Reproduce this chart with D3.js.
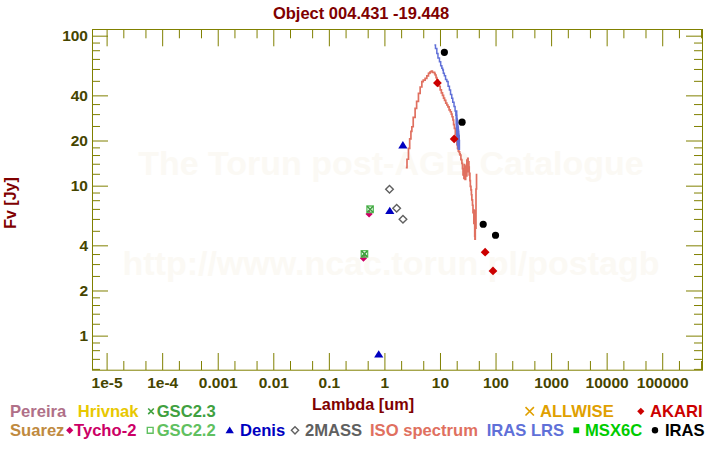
<!DOCTYPE html>
<html><head><meta charset="utf-8">
<script src="https://cdn.jsdelivr.net/npm/d3@7"></script>
<style>
body{margin:0;background:#fff}
svg{display:block}
text{font-family:"Liberation Sans",Arial,Helvetica,sans-serif;font-weight:bold}
</style>
</head><body>
<svg id="c" width="720" height="450"></svg>
<script>
// ---------------- data ----------------
const title = "Object 004.431 -19.448";
const xTitle = "Lambda [um]";
const yTitle = "Fv [Jy]";
const watermark = ["The Torun post-AGB Catalogue", "http://www.ncac.torun.pl/postagb"];

const xDomain = [5.46e-6, 5.2e5];
const yDomain = [0.59, 110.3];
const xMajorTicks = [1e-5,1e-4,1e-3,1e-2,1e-1,1,10,100,1000,10000,100000];
const xTickLabels = ["1e-5","1e-4","0.001","0.01","0.1","1","10","100","1000","10000","100000"];
const yMajorTicks = [1,2,4,10,20,40,100];
const yTickLabels = ["1","2","4","10","20","40","100"];
const yMinorTicks = [0.6,0.7,0.8,0.9,1.2,1.4,1.6,1.8,2.5,3,3.5,5,6,7,8,9,12,14,16,18,25,30,35,50,60,70,80,90];

// photometry
const irasLambda = [12, 25, 60, 100];
const irasFlux   = [77.4, 26.5, 5.53, 4.67];
const akariLambda = [9, 18, 65, 90];
const akariFlux   = [48.4, 20.5, 3.6, 2.7];
const denisLambda = [0.79, 1.25, 2.15];
const denisFlux   = [0.75, 6.78, 18.6];
const twomassLambda = [1.235, 1.662, 2.159];
const twomassFlux   = [9.46, 7.07, 5.97];
const tychoLambda = [0.42, 0.53];
const tychoFlux   = [3.28, 6.48];
const gsc22Lambda = [0.437, 0.553];
const gsc22Flux   = [3.51, 6.96];
const gsc23Lambda = [0.437, 0.553];
const gsc23Flux   = [3.51, 6.96];

// ISO spectrum
const isoLambda = [2.43,2.55,2.71,2.85,3.0,3.12,3.3,3.57,3.8,4.1,4.4,4.72,5.0,5.41,5.8,6.21,6.5,6.66,7.0,7.3,7.64,8.0,8.2,8.5,8.79,9.2,9.6,10.1,10.6,11.1,11.6,12.1,12.7,13.3,13.9,14.6,15.3,16.0,16.5,17.1,17.6,18.2,18.9,19.6,20.2,20.7,21.4,22.0,22.6,23.1,23.8,24.3,24.8,25.4,26.0,26.5,27.0,27.5,27.8,28.3,29.0,29.5,30.0,30.5,31.0,31.6,32.1,32.6,33.2,33.6,34.0,34.6,35.2,36.1,36.8,37.5,38.5,39.3,40.1,40.7,41.3,41.8,42.2,42.6,43.2,43.8,44.5,45.5];
const isoFlux   = [13.2,15.0,17.7,20.5,23.0,24.7,28.5,32.8,36.5,41.3,45.5,49.4,50.5,52.0,54.0,56.1,56.5,57.5,58.0,57.0,57.0,55.8,54.7,52.5,50.7,48.0,46.0,43.5,41.5,40.0,38.3,37.0,35.5,34.5,33.5,32.0,31.1,30.0,28.8,27.4,25.5,24.1,22.0,20.2,18.8,17.7,17.0,16.8,16.3,16.0,15.0,14.8,14.1,13.0,11.8,12.5,11.2,13.8,12.9,11.0,12.8,13.5,11.6,14.8,13.0,15.2,12.4,14.4,13.3,11.8,12.1,10.8,9.9,9.36,8.7,8.03,7.4,6.6,6.89,5.6,6.3,5.61,4.6,4.40,6.8,5.2,9.5,12.0];

// IRAS LRS spectrum
const lrsLambda = [7.95,8.3,8.78,9.2,9.79,10.3,10.8,11.2,11.5,12.0,12.6,13.3,14.0,14.8,15.5,16.3,17.0,17.9,18.7,19.3,19.5,19.6,19.7,19.8,19.9,20.0,20.1,20.2,20.3,20.4,20.5,20.6,20.7,20.8,20.9,21.0,21.1,21.2,21.3,21.4,21.5,21.6,21.7,21.8,21.9,22.0,22.1,22.2,22.3,22.4];
const lrsFlux   = [86.7,82,76.2,71,67.0,63,60.6,59,56.1,54,51,49.4,46,43.5,40.5,38.3,36,33.7,31.5,29.5,31,26,30.5,24,31.5,22,29.5,21,28,20,27.5,19,27,18.5,26,19.5,25,18,24.5,17.5,23.5,18,23,17.5,22,18.5,21.5,17.5,20,17.3];

// legend
const legendNames   = ["Pereira","Hrivnak","GSC2.3","ALLWISE","AKARI","Suarez","Tycho-2","GSC2.2","Denis","2MASS","ISO spectrum","IRAS LRS","MSX6C","IRAS"];
const legendColors  = ["#b07088","#e8c800","#40a040","#e0a000","#cc0000","#c08a40","#cc0066","#60c060","#0000c0","#606060","#e07060","#6070d8","#00cc00","#000000"];
const legendSymbols = ["none","none","times","timesBig","diamond","none","diamond","square","triangle","diamondOpen","none","none","squareFill","circle"];

// ---------------- layout ----------------
const L = 92, R = 702, T = 29.3, B = 370;
const legendRow     = [0,0,0,0,0,1,1,1,1,1,1,1,1,1];
const legendTextX   = [10,77.7,156.7,540,650,10,74,156.7,240,305,370,486.7,585,665];
const legendMarkerX = [0,0,151,529.7,640.8,0,69.7,150.2,229.7,295,0,0,576.3,655];
const legendBaseline = [417, 435.5];
const legendMarkerY  = [411.3, 430.3];

const svg = d3.select("#c");
const x = d3.scaleLog().domain(xDomain).range([L, R]);
const y = d3.scaleLog().domain(yDomain).range([B, T]);

// watermark
svg.append("g").selectAll("text").data(watermark).join("text")
  .attr("x", 391).attr("y", (d,i) => i ? 275 : 175)
  .attr("text-anchor","middle").attr("font-size", 34).attr("fill","#fbf9f4").text(d => d);

// axes
const olive = "#808000", tickText = "#454500";
const xMinor = [];
xMajorTicks.forEach(m => [2,5].forEach(k => xMinor.push(m*k)));
const xMinorF = xMinor.filter(v => v > xDomain[0] && v < xDomain[1]);

function styleAxis(g){ g.select(".domain").remove(); g.selectAll("line").attr("stroke", olive); }

svg.append("g").attr("transform",`translate(0,${B})`)
  .call(d3.axisBottom(x).tickValues(xMajorTicks).tickSizeInner(-17).tickSizeOuter(0).tickPadding(7).tickFormat((d,i)=>xTickLabels[i]))
  .call(styleAxis).call(g => g.selectAll("text").attr("fill",tickText).attr("font-size",15.5).attr("font-family",null));
svg.append("g").attr("transform",`translate(0,${B})`)
  .call(d3.axisBottom(x).tickValues(xMinorF).tickSizeInner(-9).tickSizeOuter(0).tickFormat(""))
  .call(styleAxis);
svg.append("g").attr("transform",`translate(0,${T})`)
  .call(d3.axisTop(x).tickValues(xMajorTicks).tickSizeInner(-17).tickSizeOuter(0).tickFormat(""))
  .call(styleAxis);
svg.append("g").attr("transform",`translate(0,${T})`)
  .call(d3.axisTop(x).tickValues(xMinorF).tickSizeInner(-9).tickSizeOuter(0).tickFormat(""))
  .call(styleAxis);

svg.append("g").attr("transform",`translate(${L},0)`)
  .call(d3.axisLeft(y).tickValues(yMajorTicks).tickSizeInner(-16).tickSizeOuter(0).tickPadding(4).tickFormat((d,i)=>yTickLabels[i]))
  .call(styleAxis).call(g => g.selectAll("text").attr("fill",tickText).attr("font-size",15.5).attr("font-family",null));
svg.append("g").attr("transform",`translate(${L},0)`)
  .call(d3.axisLeft(y).tickValues(yMinorTicks).tickSizeInner(-8).tickSizeOuter(0).tickFormat(""))
  .call(styleAxis);
svg.append("g").attr("transform",`translate(${R},0)`)
  .call(d3.axisRight(y).tickValues(yMajorTicks).tickSizeInner(-16).tickSizeOuter(0).tickFormat(""))
  .call(styleAxis);
svg.append("g").attr("transform",`translate(${R},0)`)
  .call(d3.axisRight(y).tickValues(yMinorTicks).tickSizeInner(-8).tickSizeOuter(0).tickFormat(""))
  .call(styleAxis);

svg.append("rect").attr("x",L+0.5).attr("y",T+0.2).attr("width",R-L).attr("height",B-T)
  .attr("fill","none").attr("stroke",olive).attr("stroke-width",1);

// titles
svg.append("text").attr("x",361).attr("y",19).attr("text-anchor","middle").attr("font-size",16.5).attr("fill","#800000").text(title);
svg.append("text").attr("x",363).attr("y",409.5).attr("text-anchor","middle").attr("font-size",16.3).attr("fill","#800000").text(xTitle);
svg.append("text").attr("transform","translate(16,203) rotate(-90)").attr("text-anchor","middle").attr("font-size",16).attr("fill","#800000").text(yTitle);

// clip
svg.append("clipPath").attr("id","clip").append("rect").attr("x",L).attr("y",T).attr("width",R-L).attr("height",B-T);
const plot = svg.append("g").attr("clip-path","url(#clip)");

// spectra
const line = d3.line().x(d => x(d[0])).y(d => y(d[1])).curve(d3.curveStepAfter);
plot.append("path").datum(isoLambda.map((l,i)=>[l,isoFlux[i]])).attr("d",line)
  .attr("fill","none").attr("stroke","#e07060").attr("stroke-width",1.7);
plot.append("path").datum(lrsLambda.map((l,i)=>[l,lrsFlux[i]])).attr("d",line)
  .attr("fill","none").attr("stroke","#6070d8").attr("stroke-width",1.5);

// marker shapes
function shape(type, cx, cy, s){
  const p = d3.path();
  switch(type){
    case "diamond": case "diamondOpen":
      p.moveTo(cx, cy-s); p.lineTo(cx+s, cy); p.lineTo(cx, cy+s); p.lineTo(cx-s, cy); p.closePath(); break;
    case "square": case "squareFill":
      p.rect(cx-s, cy-s, 2*s, 2*s); break;
    case "triangle":
      p.moveTo(cx, cy-s); p.lineTo(cx+s*1.1, cy+s*0.75); p.lineTo(cx-s*1.1, cy+s*0.75); p.closePath(); break;
    case "circle":
      p.arc(cx, cy, s, 0, 2*Math.PI); break;
    case "times": case "timesBig":
      p.moveTo(cx-s, cy-s); p.lineTo(cx+s, cy+s); p.moveTo(cx+s, cy-s); p.lineTo(cx-s, cy+s); break;
  }
  return p.toString();
}
function styleFor(type, color){
  if (type==="diamondOpen" || type==="square") return {fill:"none", stroke:color, sw:1.4};
  if (type==="times" || type==="timesBig") return {fill:"none", stroke:color, sw:1.6};
  return {fill:color, stroke:"none", sw:0};
}
function drawPoints(lams, fluxes, type, color, size){
  const st = styleFor(type, color);
  plot.append("g").selectAll("path").data(lams.map((l,i)=>[l,fluxes[i]])).join("path")
    .attr("d", d => shape(type, x(d[0]), y(d[1]), size))
    .attr("fill", st.fill).attr("stroke", st.stroke).attr("stroke-width", st.sw);
}
drawPoints(tychoLambda, tychoFlux, "diamond", "#cc0066", 3.6);
drawPoints(gsc22Lambda, gsc22Flux, "square", "#60c060", 3.2);
drawPoints(gsc23Lambda, gsc23Flux, "times", "#40a040", 3.0);
drawPoints(denisLambda, denisFlux, "triangle", "#0000c0", 4.2);
drawPoints(twomassLambda, twomassFlux, "diamondOpen", "#606060", 3.8);
drawPoints(akariLambda, akariFlux, "diamond", "#cc0000", 4.4);
drawPoints(irasLambda, irasFlux, "circle", "#000000", 3.6);

// legend
const lg = svg.append("g");
legendNames.forEach((n,i) => {
  const r = legendRow[i];
  if (legendSymbols[i] !== "none"){
    const t = legendSymbols[i];
    const st = styleFor(t, legendColors[i]);
    const sz = t==="timesBig" ? 4.2 : t==="times" ? 2.8 : t==="circle" ? 3.2 : t==="triangle" ? 3.8 : t==="square" || t==="squareFill" ? 2.9 : 3.6;
    lg.append("path").attr("d", shape(t, legendMarkerX[i], legendMarkerY[r], sz))
      .attr("fill", st.fill).attr("stroke", st.stroke).attr("stroke-width", st.sw);
  }
  lg.append("text").attr("x", legendTextX[i]).attr("y", legendBaseline[r])
    .attr("font-size", 16.6).attr("fill", legendColors[i]).text(n);
});
</script>
</body></html>
